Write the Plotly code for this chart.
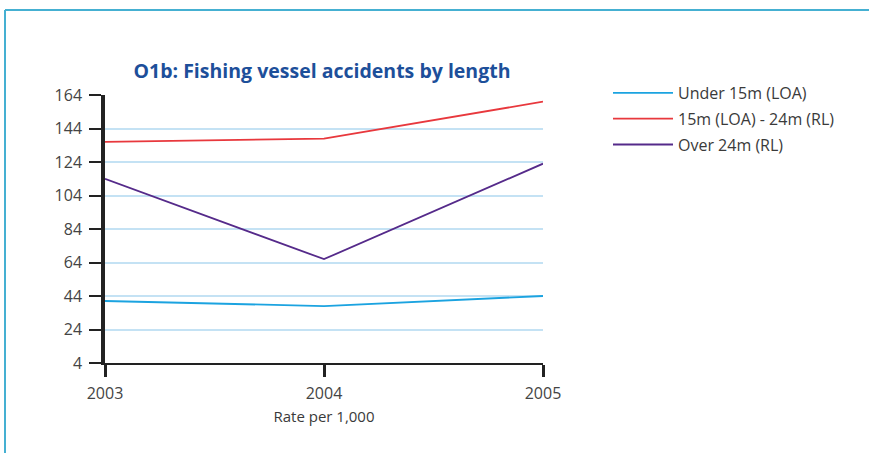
import plotly.graph_objects as go

years = [2003, 2004, 2005]
series_names = ["Under 15m (LOA)", "15m (LOA) - 24m (RL)", "Over 24m (RL)"]
under_15m = [41, 38, 44]
mid_15_24m = [136, 138, 160]
over_24m = [114, 66, 123]
y_ticks = [4, 24, 44, 64, 84, 104, 124, 144, 164]
colors = ["#1ba3e0", "#e8383d", "#552a8a"]

W, H = 869, 453
L, R, T, B = 105, 326, 95, 90
pw = W - L - R
ph = H - T - B

fig = go.Figure()
for i, (name, vals) in enumerate(zip(series_names, [under_15m, mid_15_24m, over_24m])):
    fig.add_trace(go.Scatter(x=years, y=vals, mode="lines", name=name,
                             legendgroup=f"g{i}",
                             line=dict(color=colors[i], width=1.8)))

def px_x(p):
    return (p - L) / pw

def px_y(p):
    return (H - B - p) / ph

shapes = [
    dict(type="line", xref="paper", yref="paper", x0=px_x(5), x1=px_x(872), y0=px_y(10), y1=px_y(10),
         line=dict(color="#45b0d2", width=2)),
    dict(type="line", xref="paper", yref="paper", x0=px_x(5), x1=px_x(5), y0=px_y(10), y1=px_y(455),
         line=dict(color="#45b0d2", width=2)),
]

fig.update_layout(
    width=W, height=H,
    margin=dict(l=L, r=R, t=T, b=B, autoexpand=False),
    paper_bgcolor="white", plot_bgcolor="white",
    font=dict(family="Open Sans", size=15, color="#3a3a3a"),
    title=dict(text="<b>O1b: Fishing vessel accidents by length</b>",
               x=px_x(322), xref="paper", xanchor="center",
               y=1 - 71 / H, yanchor="middle",
               font=dict(family="Open Sans", size=19.5, color="#1d4f9a")),
    xaxis=dict(range=[2003, 2005], tickvals=years, ticktext=[str(y) for y in years],
               showgrid=False, zeroline=False,
               showline=True, linecolor="#222222", linewidth=1.8,
               ticks="outside", ticklen=12, tickwidth=3, tickcolor="#222222",
               ticklabelstandoff=3,
               title=dict(text="Rate per 1,000", standoff=8, font=dict(size=15)),
               tickfont=dict(size=16, color="#444444")),
    yaxis=dict(range=[4, 164], tickvals=y_ticks, showgrid=True, gridcolor="#c4e2f4", gridwidth=1.5,
               zeroline=False, showline=True, linecolor="#222222", linewidth=3.5,
               ticks="outside", ticklen=12, tickwidth=1.5, tickcolor="#222222",
               ticklabelstandoff=4,
               tickfont=dict(size=16, color="#444444")),
    showlegend=True,
    legend=dict(x=px_x(608), y=px_y(76), xanchor="left", yanchor="top",
                traceorder="grouped", tracegroupgap=2,
                font=dict(size=16, color="#3a3a3a"),
                bgcolor="rgba(0,0,0,0)", itemwidth=60),
    shapes=shapes,
)

fig.write_html("out.html", config={"displayModeBar": False},
               post_script="document.body.style.margin='0';document.body.style.overflow='hidden';")
